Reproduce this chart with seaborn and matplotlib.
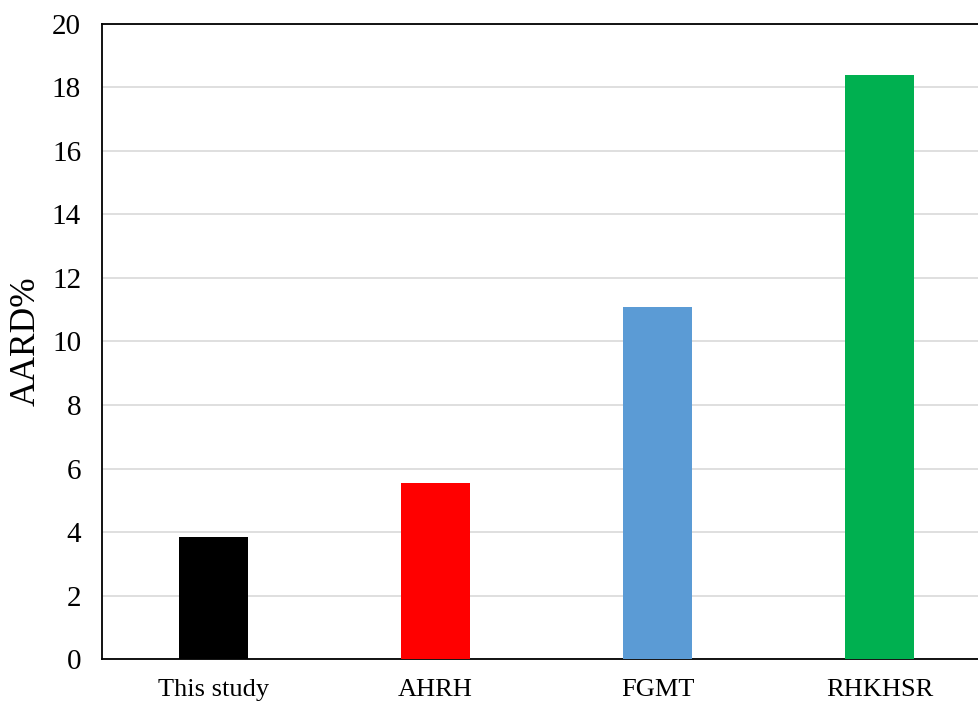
import matplotlib
matplotlib.use("Agg")
import matplotlib.pyplot as plt
import seaborn as sns
import pandas as pd

categories = ["This study", "AHRH", "FGMT", "RHKHSR"]
aard = [3.84, 5.54, 11.07, 18.38]
colors = ["#000000", "#ff0000", "#5b9bd5", "#00b050"]
yticks = [0, 2, 4, 6, 8, 10, 12, 14, 16, 18, 20]

sns.set_style("white")
plt.rcParams["font.family"] = ["Liberation Serif", "DejaVu Serif"]
plt.rcParams["text.color"] = "black"
plt.rcParams["axes.labelcolor"] = "black"
plt.rcParams["xtick.color"] = "black"
plt.rcParams["ytick.color"] = "black"

df = pd.DataFrame({"method": categories, "AARD": aard})

fig = plt.figure(figsize=(9.79, 7.04), dpi=100)
ax = fig.add_axes([102 / 979, 44.7 / 704, 889 / 979, 635.8 / 704])
sns.barplot(data=df, x="method", y="AARD", hue="method", palette=colors,
            width=0.31, legend=False, ax=ax, saturation=1, zorder=3,
            linewidth=0)
ax.set_xlim(-0.5, 3.5)
ax.set_ylim(0, 20)
ax.set_yticks(yticks)
ax.set_yticklabels([str(t) for t in yticks])
ax.yaxis.grid(True, color="#d9d9d9", linewidth=1.2, zorder=0)
ax.set_axisbelow(True)
ax.tick_params(axis="y", length=0, labelsize=21, pad=15)
ax.tick_params(axis="x", length=0, labelsize=19, pad=14)
ax.set_xlabel("")
ax.set_ylabel("AARD%", fontsize=25.5, labelpad=6.5)
for s in ["left", "bottom", "top", "right"]:
    ax.spines[s].set_visible(True)
    ax.spines[s].set_color("black")
    ax.spines[s].set_linewidth(1.3)

fig.savefig("out.png", dpi=100)
